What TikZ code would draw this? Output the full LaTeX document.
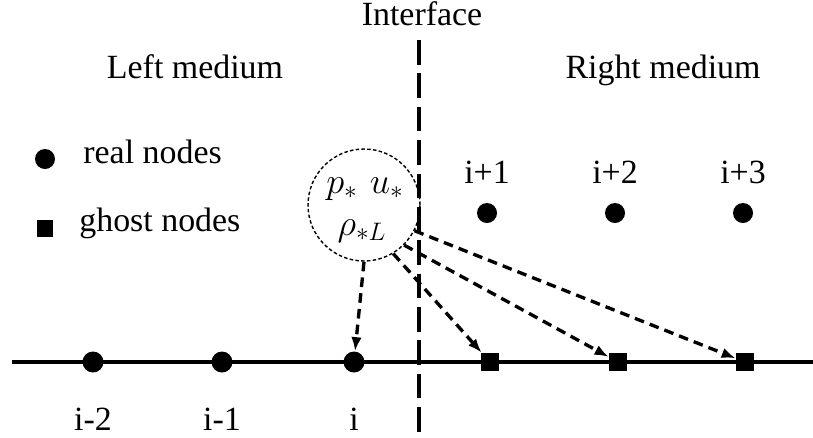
\documentclass[tikz,border=0pt]{standalone}
\usepackage{fontspec}
\setmainfont{Liberation Serif}
\usetikzlibrary{arrows.meta,positioning}

\begin{document}
\begin{tikzpicture}[x=0.02cm, y=-0.02cm,
  real/.style={circle, fill=black, inner sep=0pt, minimum size=0.42cm},
  ghost/.style={rectangle, fill=black, inner sep=0pt, minimum size=0.36cm},
  lbl/.style={font=\fontsize{19.3}{23}\selectfont, anchor=base, inner sep=0pt},
  arr/.style={-{Latex[length=8pt,width=6pt]}, line width=1.9pt, dash pattern=on 5.5pt off 3.5pt},
  iface/.style={line width=1.8pt, dash pattern=on 14pt off 5pt}
]
\useasboundingbox (0,0) rectangle (813,437);

% axis and interface
\coordinate (a0) at (12,362);
\coordinate (a1) at (813,362);
\coordinate (f0) at (419,40);
\coordinate (f1) at (419,437);
\draw[line width=2pt] (a0) -- (a1);
\draw[iface] (f0) -- (f1);

% nodes on the axis
\foreach \n/\x/\t in {rm2/93/i-2, rm1/222/i-1, r0/354/i} {
  \node[real] (\n) at (\x,362) {};
  \node[lbl] (\n-l) at (\x,430) {\t};
}
\foreach \n/\x in {g1/490, g2/618, g3/745} {
  \node[ghost] (\n) at (\x,362) {};
}

% right medium nodes
\foreach \n/\x/\t in {r1/487/i+1, r2/615/i+2, r3/743/i+3} {
  \node[real, minimum size=0.4cm] (\n) at (\x,213) {};
  \node[lbl] (\n-l) at (\x,183) {\t};
}

% interface state
\node[circle, draw, line width=0.8pt, dash pattern=on 2pt off 1.3pt, minimum size=2.24cm] (c) at (364,205) {};
\node[font=\fontsize{20.5}{24}\selectfont] (pu) at (365,189) {$p_*\,\,u_*$};
\node[font=\fontsize{20.5}{24}\selectfont] (rho) at (362,231) {$\rho_{*L}$};

\draw[arr] (c.-90) -- (r0);
\draw[arr] (c.-59) -- (g1);
\draw[arr] (c.-45) -- (g2);
\draw[arr] (c.-27) -- (g3);

% legend
\node[real, minimum size=0.4cm] (lr) at (45,159) {};
\node[lbl, anchor=base west] (lr-t) at (83,163) {real nodes};
\node[ghost, minimum size=0.34cm] (lg) at (45,228) {};
\node[lbl, anchor=base west] (lg-t) at (79,231) {ghost nodes};

% titles
\node[lbl] (lm) at (195,78) {Left medium};
\node[lbl] (rmed) at (663,78) {Right medium};
\node[lbl] (ifl) at (422,25) {Interface};
\end{tikzpicture}
\end{document}
